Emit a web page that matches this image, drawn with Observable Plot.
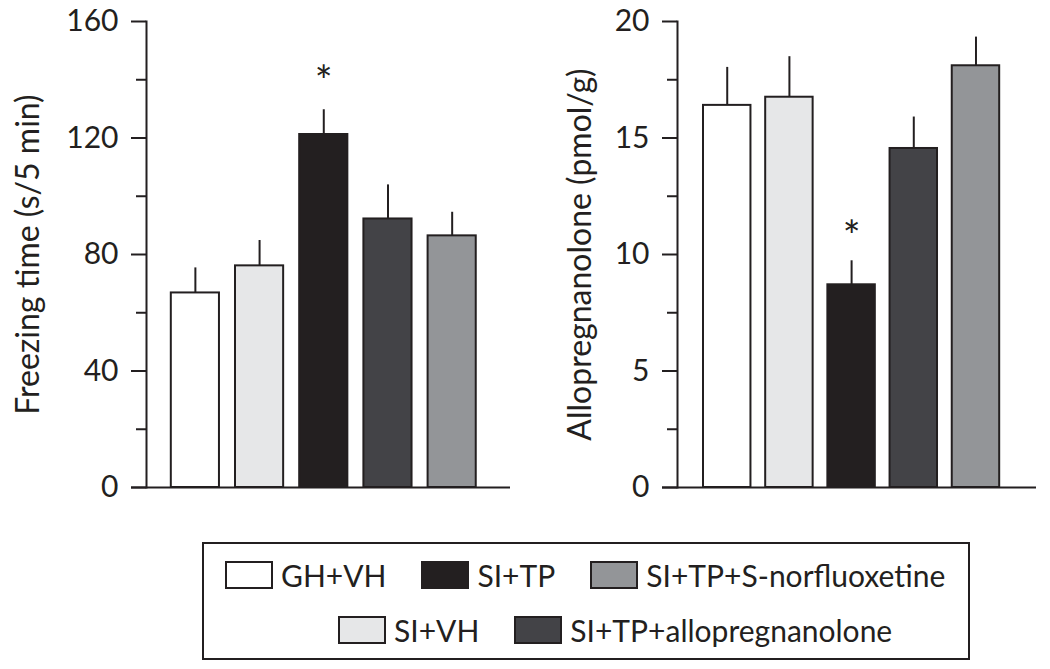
<!DOCTYPE html>
<html>
<head>
<meta charset="utf-8">
<script src="https://cdn.jsdelivr.net/npm/d3@7"></script>
<script src="https://cdn.jsdelivr.net/npm/@observablehq/plot@0.6"></script>
<style>
  body { margin: 0; background: #fff; font-family: Lato, "Open Sans", sans-serif; color: #231f20; }
  #wrap { position: relative; width: 1050px; height: 669px; overflow: hidden; }
  #charts { display: flex; }
  #charts svg { max-width: none; flex: none; }
  #legend { position: absolute; left: 202px; top: 542px; width: 768px; height: 118px; box-sizing: border-box; border: 2px solid #231f20; }
  .row { position: absolute; display: flex; align-items: center; gap: 35px; font-size: 30px; line-height: 28px; white-space: nowrap; }
  .item { display: flex; align-items: center; gap: 8px; }
  .sw { width: 48px; height: 28px; box-sizing: border-box; border: 2px solid #231f20; }
</style>
</head>
<body>
<div id="wrap">
  <div id="charts"></div>
  <div id="legend"></div>
</div>
<script>
// ---- data ----
const groups = ["GH+VH", "SI+VH", "SI+TP", "SI+TP+allopregnanolone", "SI+TP+S-norfluoxetine"];
const groupColors = ["#ffffff", "#e6e7e8", "#231f20", "#434347", "#939598"];

const freezingMean = [66.8, 76.1, 121.2, 92.2, 86.4];
const freezingSem = [8.6, 8.7, 8.5, 11.7, 8.1];
const freezingTicks = [0, 40, 80, 120, 160];
const freezingMinor = [20, 60, 100, 140];
const freezingStars = [{group: "SI+TP", mark: "*"}];
const freezingLabel = "Freezing time (s/5 min)";

const alloMean = [16.4, 16.75, 8.7, 14.55, 18.1];
const alloSem = [1.63, 1.74, 1.03, 1.35, 1.23];
const alloTicks = [0, 5, 10, 15, 20];
const alloMinor = [2.5, 7.5, 12.5, 17.5];
const alloStars = [{group: "SI+TP", mark: "*"}];
const alloLabel = "Allopregnanolone (pmol/g)";

const legendRow1 = ["GH+VH", "SI+TP", "SI+TP+S-norfluoxetine"];
const legendRow2 = ["SI+VH", "SI+TP+allopregnanolone"];

// ---- drawing ----
const ink = "#231f20";
function panel(o) {
  const data = groups.map((g, i) => ({group: g, mean: o.means[i], top: o.means[i] + o.sems[i]}));
  const starData = o.stars.map(s => ({...s, top: data.find(d => d.group === s.group).top}));
  return Plot.plot({
    width: o.width, height: 505,
    marginTop: 21, marginBottom: 18, marginLeft: o.marginLeft, marginRight: o.marginRight,
    style: {fontFamily: "Lato, 'Open Sans', sans-serif", fontSize: "30px", color: ink, background: "white", overflow: "visible"},
    x: {type: "band", domain: groups, paddingInner: o.padIn, paddingOuter: o.padOut, align: o.align, round: false, axis: null},
    y: {domain: o.domain, axis: null},
    color: {domain: groups, range: groupColors},
    marks: [
      Plot.barY(data, {x: "group", y: "mean", fill: "group", stroke: ink, strokeWidth: 2}),
      Plot.ruleX(data, {x: "group", y1: "mean", y2: "top", stroke: ink, strokeWidth: 2}),
      Plot.text(starData, {x: "group", y: "top", text: "mark", dy: o.starDy, fontSize: 42, fill: ink}),
      Plot.axisY(o.ticks, {anchor: "left", tickSize: 15, tickPadding: 13, label: null, fontSize: 30, stroke: ink, strokeWidth: 2, fill: ink}),
      Plot.axisY(o.minor, {anchor: "left", tickSize: 10, tickFormat: () => "", label: null, stroke: ink, strokeWidth: 2}),
      Plot.frame({anchor: "left", stroke: ink, strokeWidth: 2}),
      Plot.ruleY([0], {insetLeft: -15, stroke: ink, strokeWidth: 2}),
      Plot.text([o.label], {text: d => d, frameAnchor: "left", textAnchor: "middle", rotate: -90, dx: o.labelDx, fontSize: 32, fill: ink})
    ]
  });
}

const charts = document.getElementById("charts");
charts.append(panel({
  means: freezingMean, sems: freezingSem, domain: [0, 160], ticks: freezingTicks, minor: freezingMinor,
  stars: freezingStars, label: freezingLabel, width: 520, marginLeft: 146, marginRight: 10,
  padIn: 0.25, padOut: 0.46, align: 0.42, labelDx: -118, starDy: -27
}));
charts.append(panel({
  means: alloMean, sems: alloSem, domain: [0, 20], ticks: alloTicks, minor: alloMinor,
  stars: alloStars, label: alloLabel, width: 530, marginLeft: 157, marginRight: 14,
  padIn: 0.237, padOut: 0.505, align: 0.414, labelDx: -97, starDy: -23
}));

// ---- legend ----
const legend = document.getElementById("legend");
function row(items, top, left) {
  const r = document.createElement("div");
  r.className = "row";
  r.style.top = top + "px";
  r.style.left = left + "px";
  for (const g of items) {
    const it = document.createElement("div");
    it.className = "item";
    const sw = document.createElement("div");
    sw.className = "sw";
    sw.style.background = groupColors[groups.indexOf(g)];
    const t = document.createElement("span");
    t.textContent = g;
    it.append(sw, t);
    r.append(it);
  }
  legend.append(r);
}
row(legendRow1, 17, 21);
row(legendRow2, 72, 134);
</script>
</body>
</html>
